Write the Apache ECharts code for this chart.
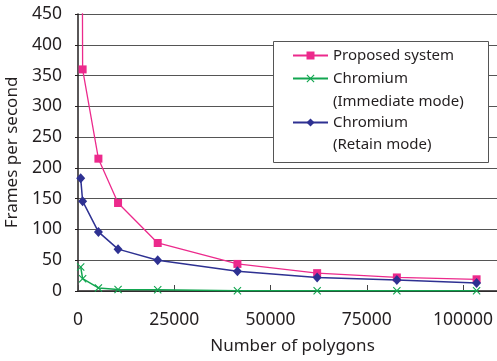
<!DOCTYPE html>
<html>
<head>
<meta charset="utf-8">
<script src="https://cdn.jsdelivr.net/npm/echarts@6/dist/echarts.min.js"></script>
<style>
html,body{margin:0;padding:0;background:#fff;}
#chart{width:497px;height:361px;}
</style>
</head>
<body>
<div id="chart"></div>
<script>
// Data
const polygons = [700, 1200, 5300, 10400, 20700, 41400, 62100, 82800, 103500];
const proposedFps = [1500, 360, 215, 143, 78, 44, 29, 22, 19];
const immediateFps = [39, 20, 5, 2.5, 2, 0.5, 0.5, 0.5, 0.5];
const retainFps = [183, 146, 96, 68, 50, 32, 22, 18, 13];
const xTicks = [0, 25000, 50000, 75000, 100000];
const yTicks = [0, 50, 100, 150, 200, 250, 300, 350, 400, 450];
const seriesNames = ['Proposed system', 'Chromium (Immediate mode)', 'Chromium (Retain mode)'];

const pink = '#EC2A8C', green = '#12A650', blue = '#2E3192', ink = '#231f20';
const FONT = '"Noto Sans", "Open Sans", sans-serif';
const pairs = vals => polygons.map((x, i) => [x, vals[i]]);
const xSymbol = 'path://M0,1L1,0L5,4L9,0L10,1L6,5L10,9L9,10L5,6L1,10L0,9L4,5Z';

const chart = echarts.init(document.getElementById('chart'), null, {renderer: 'canvas'});
chart.setOption({
  animation: false,
  backgroundColor: '#fff',
  grid: {left: 78, top: 14, right: -10, bottom: 70, containLabel: false, outerBoundsMode: 'none'},
  xAxis: {
    type: 'value',
    min: 0,
    max: 111400,
    interval: 25000,
    name: 'Number of polygons',
    nameLocation: 'middle',
    nameGap: 47,
    nameTextStyle: {fontFamily: FONT, fontSize: 17, color: ink},
    axisLine: {show: true, lineStyle: {color: ink, width: 1.5}},
    axisTick: {show: true, inside: true, length: 6, lineStyle: {color: '#444', width: 1}},
    axisLabel: {
      fontFamily: FONT, fontSize: 17.5, color: ink, margin: 20, showMaxLabel: false,
      formatter: v => (xTicks.indexOf(v) >= 0 ? String(v) : '')
    },
    splitLine: {show: false}
  },
  yAxis: {
    type: 'value',
    min: 0,
    max: 450,
    interval: 50,
    name: 'Frames per second',
    nameLocation: 'middle',
    nameGap: 48,
    nameTextStyle: {fontFamily: FONT, fontSize: 17, color: ink},
    axisLine: {show: true, lineStyle: {color: ink, width: 1.5}},
    axisTick: {show: true, length: 3, lineStyle: {color: ink}},
    axisLabel: {
      fontFamily: FONT, fontSize: 17.5, color: ink, margin: 16,
      formatter: v => (yTicks.indexOf(v) >= 0 ? String(v) : '')
    },
    splitLine: {show: true, lineStyle: {color: '#555', width: 1}}
  },
  legend: [
    {
      data: [seriesNames[0], seriesNames[1]],
      orient: 'vertical', left: 292, top: 48, padding: 0,
      itemWidth: 35, itemHeight: 10, itemGap: 8, z: 10,
      formatter: n => n.split(' (')[0],
      textStyle: {fontFamily: FONT, fontSize: 15, color: ink}
    },
    {
      data: [seriesNames[2]],
      orient: 'vertical', left: 292, top: 115, padding: 0,
      itemWidth: 35, itemHeight: 10, itemGap: 8, z: 10,
      formatter: n => n.split(' (')[0],
      textStyle: {fontFamily: FONT, fontSize: 15, color: ink}
    }
  ],
  graphic: [
    {type: 'rect', z: 5, shape: {x: 273.5, y: 41.5, width: 215, height: 121},
     style: {fill: '#fff', stroke: '#555', lineWidth: 1}},
    {type: 'text', z: 11, x: 333, y: 102,
     style: {text: '(Immediate mode)', font: '15px ' + FONT, fill: ink, verticalAlign: 'middle'}},
    {type: 'text', z: 11, x: 333, y: 145,
     style: {text: '(Retain mode)', font: '15px ' + FONT, fill: ink, verticalAlign: 'middle'}}
  ],
  series: [
    {
      name: seriesNames[0], type: 'line', data: pairs(proposedFps), clip: true,
      symbol: 'rect', symbolSize: 8,
      lineStyle: {color: pink, width: 1.3}, itemStyle: {color: pink}, z: 3
    },
    {
      name: seriesNames[1], type: 'line', data: pairs(immediateFps), clip: true,
      symbol: xSymbol, symbolSize: 8,
      lineStyle: {color: green, width: 1.5}, itemStyle: {color: green}, z: 2
    },
    {
      name: seriesNames[2], type: 'line', data: pairs(retainFps), clip: true,
      symbol: 'diamond', symbolSize: [9, 10],
      lineStyle: {color: blue, width: 1.5}, itemStyle: {color: blue}, z: 4
    }
  ]
});
</script>
</body>
</html>
